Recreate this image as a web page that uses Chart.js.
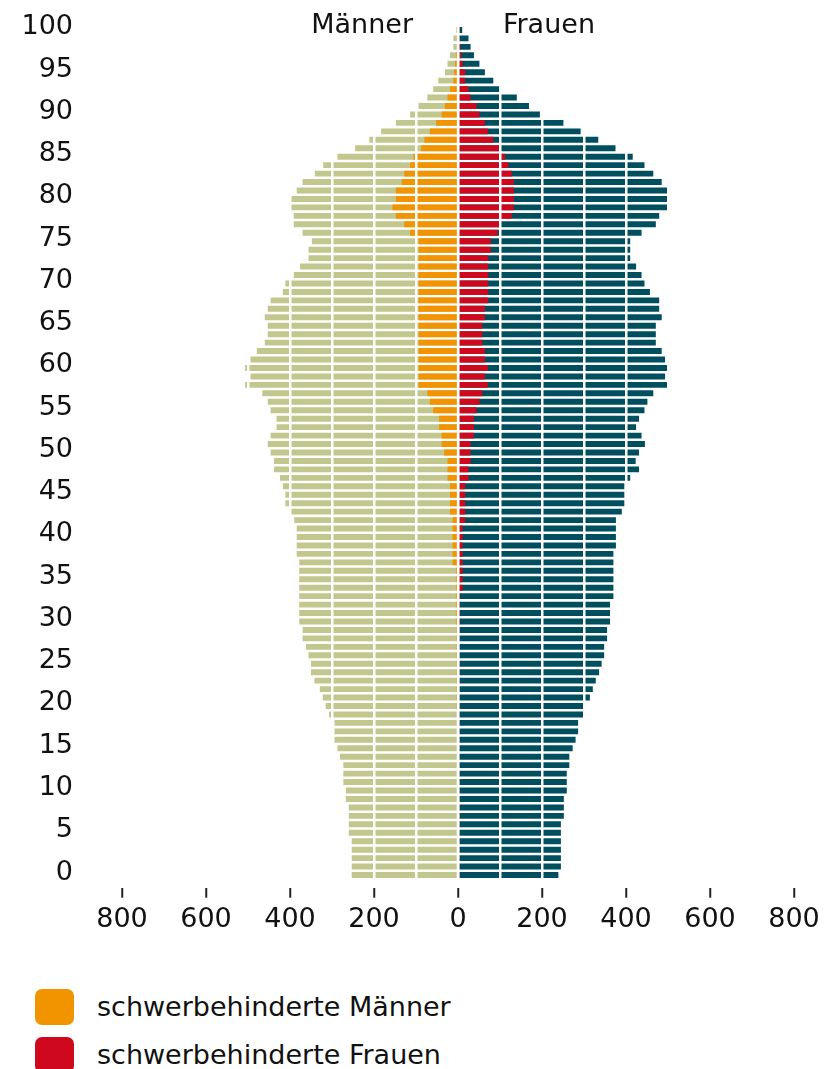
<!DOCTYPE html>
<html lang="de">
<head>
<meta charset="utf-8">
<title>Bevölkerung nach Alter und Geschlecht</title>
<script src="https://cdn.jsdelivr.net/npm/chart.js@4.4.1/dist/chart.umd.min.js"></script>
<style>
  body { margin: 0; background: #fff; font-family: "DejaVu Sans", sans-serif; color: #111; }
  #wrap { position: relative; width: 827px; height: 960px; }
  .legend { position: absolute; left: 35px; top: 989px; margin: 0; padding: 0; list-style: none; }
  .legend li { position: relative; height: 48px; font-size: 27px; line-height: 36px; padding-left: 62px; white-space: nowrap; }
  .legend span { position: absolute; left: 0; top: 0; width: 39px; height: 36px; border-radius: 7px; }
</style>
</head>
<body>
<div id="wrap"><canvas id="pyramidChart"></canvas></div>
<ul class="legend">
  <li><span style="background:#f29400"></span>schwerbehinderte Männer</li>
  <li><span style="background:#cf081e"></span>schwerbehinderte Frauen</li>
</ul>
<script>
// Alter 0 bis 100
const ages = [];
for (let a = 0; a <= 100; a++) ages.push(a);

// Bevölkerung (Tsd.), Index = Alter
const men = [
  253, 253, 253, 253, 253, 260, 260, 260, 260, 267,
  267, 273, 273, 273, 281, 287, 294, 294, 294, 307,
  315, 322, 329, 342, 350, 350, 356, 362, 370, 370,
  378, 378, 378, 378, 378, 378, 378, 378, 384, 384,
  384, 384, 390, 398, 411, 411, 417, 424, 438, 438,
  446, 453, 446, 432, 432, 446, 453, 466, 507, 494,
  507, 494, 479, 460, 453, 453, 460, 453, 446, 417,
  411, 391, 376, 356, 356, 348, 370, 391, 391, 398,
  398, 384, 370, 341, 321, 287, 245, 211, 183, 148,
  114, 94, 73, 59, 47, 31, 25, 19, 11, 11,
  4
];
const women = [
  239, 245, 245, 245, 245, 245, 245, 252, 252, 252,
  259, 259, 259, 265, 265, 273, 280, 286, 286, 301,
  301, 314, 321, 328, 336, 342, 348, 348, 355, 355,
  362, 362, 362, 370, 370, 370, 370, 370, 370, 376,
  376, 376, 376, 390, 396, 396, 396, 410, 431, 423,
  431, 445, 437, 424, 431, 444, 451, 465, 501, 493,
  501, 493, 485, 471, 471, 471, 485, 479, 479, 457,
  444, 437, 424, 410, 410, 410, 437, 471, 479, 501,
  501, 501, 485, 465, 444, 416, 375, 334, 292, 251,
  195, 169, 140, 100, 84, 64, 51, 38, 30, 25,
  10
];
// schwerbehinderte Menschen (Tsd.)
const menDisabled = [
  3, 3, 3, 3, 3, 3, 3, 3, 3, 3,
  3, 3, 3, 3, 3, 3, 3, 3, 3, 3,
  4, 4, 4, 4, 4, 4, 4, 4, 4, 4,
  5, 5, 5, 5, 5, 5, 5, 13, 13, 13,
  13, 13, 13, 19, 19, 19, 19, 25, 25, 25,
  33, 39, 39, 45, 45, 59, 67, 73, 94, 94,
  94, 94, 94, 94, 94, 94, 94, 94, 94, 94,
  94, 94, 94, 94, 94, 94, 114, 128, 148, 156,
  148, 148, 134, 128, 114, 106, 88, 80, 67, 52,
  39, 31, 25, 19, 11, 9, 7, 5, 3, 2,
  1
];
const womenDisabled = [
  2, 2, 2, 2, 2, 2, 2, 2, 2, 2,
  2, 2, 2, 2, 2, 2, 2, 2, 2, 2,
  3, 3, 3, 3, 3, 3, 3, 3, 3, 3,
  5, 5, 5, 5, 11, 11, 11, 11, 11, 11,
  11, 11, 17, 17, 17, 17, 17, 25, 25, 30,
  30, 30, 38, 38, 38, 44, 51, 58, 71, 64,
  71, 64, 64, 58, 58, 58, 64, 64, 72, 72,
  72, 72, 72, 72, 78, 78, 94, 100, 128, 133,
  133, 133, 133, 128, 120, 112, 100, 84, 71, 64,
  51, 44, 30, 25, 17, 17, 11, 8, 6, 4,
  2
];
const ageTicks = [0, 5, 10, 15, 20, 25, 30, 35, 40, 45, 50, 55, 60, 65, 70, 75, 80, 85, 90, 95, 100];

const green = '#c2c78e';
const teal = '#004f5f';
const orange = '#f29400';
const red = '#cf081e';

Chart.defaults.font.family = '"DejaVu Sans", sans-serif';
Chart.defaults.font.size = 27;
Chart.defaults.color = '#111';

// Überschriften "Männer" / "Frauen"
const headerPlugin = {
    id: 'header',
    afterDraw(chart) {
        const ctx = chart.ctx;
        const x = chart.scales.x;
        ctx.save();
        ctx.font = '27px "DejaVu Sans", sans-serif';
        ctx.fillStyle = '#111';
        ctx.textBaseline = 'middle';
        ctx.textAlign = 'right';
        ctx.fillText('Männer', x.getPixelForValue(-107), 26);
        ctx.textAlign = 'left';
        ctx.fillText('Frauen', x.getPixelForValue(107), 26);
        ctx.restore();
    }
};

const pyramidCtx = document.getElementById('pyramidChart').getContext('2d');
const pyramidChart = new Chart(pyramidCtx, {
    type: 'bar',
    data: {
        datasets: [{
            label: 'schwerbehinderte Männer',
            data: ages.map((a, i) => ({ x: -menDisabled[i], y: a })),
            backgroundColor: orange,
            order: 0
        }, {
            label: 'schwerbehinderte Frauen',
            data: ages.map((a, i) => ({ x: womenDisabled[i], y: a })),
            backgroundColor: red,
            order: 0
        }, {
            label: 'Männer',
            data: ages.map((a, i) => ({ x: -men[i], y: a })),
            backgroundColor: green,
            order: 1
        }, {
            label: 'Frauen',
            data: ages.map((a, i) => ({ x: women[i], y: a })),
            backgroundColor: teal,
            order: 1
        }]
    },
    options: {
        indexAxis: 'y',
        responsive: true,
        maintainAspectRatio: false,
        animation: false,
        events: [],
        grouped: false,
        barPercentage: 0.7,
        categoryPercentage: 1,
        layout: { padding: { top: 21.5, right: 33, left: 0, bottom: 0 } },
        plugins: {
            legend: { display: false },
            tooltip: { enabled: false }
        },
        scales: {
            x: {
                type: 'linear',
                min: -800,
                max: 800,
                border: { display: false },
                grid: {
                    color: '#ffffff',
                    lineWidth: 2.5,
                    z: 1,
                    tickLength: 10,
                    tickWidth: 2,
                    tickColor: c => (c.tick && c.tick.value % 200 === 0) ? '#222' : 'rgba(0,0,0,0)'
                },
                ticks: {
                    stepSize: 100,
                    autoSkip: false,
                    maxRotation: 0,
                    padding: 6,
                    callback: v => v % 200 === 0 ? String(Math.abs(v)) : ''
                },
                afterFit: s => { s.height = 72.3; }
            },
            y: {
                type: 'linear',
                min: -1.5,
                max: 101,
                offset: false,
                border: { display: false },
                grid: { display: false, drawTicks: false },
                afterBuildTicks: axis => { axis.ticks = ageTicks.map(v => ({ value: v + 0.3 })); },
                ticks: {
                    autoSkip: false,
                    padding: 49,
                    callback: v => String(Math.round(v))
                },
                // tick padding must not push the plot area down
                afterFit: s => { s.width = 122; s.paddingTop = 0; s.paddingBottom = 0; }
            }
        }
    },
    plugins: [headerPlugin]
});
</script>
</body>
</html>
